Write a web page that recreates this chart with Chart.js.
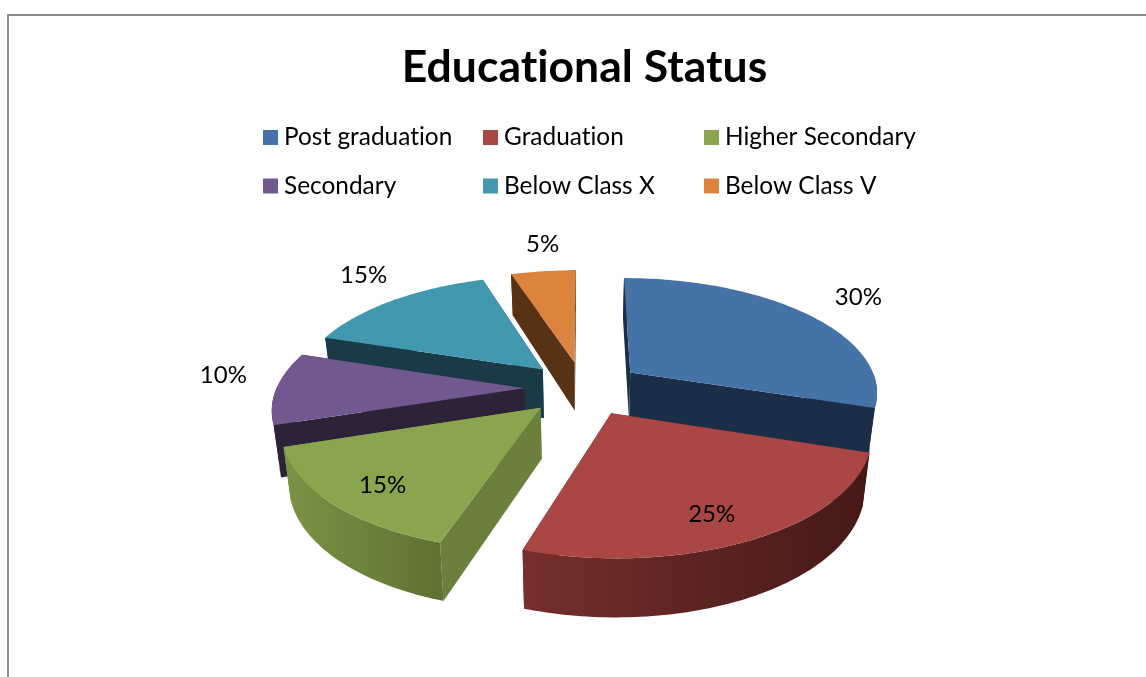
<!DOCTYPE html>
<html>
<head>
<meta charset="utf-8">
<title>Educational Status</title>
<script src="https://cdn.jsdelivr.net/npm/chart.js@4"></script>
<style>
    html, body { margin: 0; padding: 0; background: #fff; }
    canvas { display: block; }
</style>
</head>
<body>
<canvas id="statusChart" width="1146" height="677"></canvas>
<script>
const chartTitle = 'Educational Status';
const categories = ['Post graduation', 'Graduation', 'Higher Secondary', 'Secondary', 'Below Class X', 'Below Class V'];
const shares = [30, 25, 15, 10, 15, 5];

const faceColors = ['#4572a7', '#aa4643', '#89a54e', '#71588f', '#4198af', '#db843d'];
const wallColors = ['#1b2e47', '#5a2220', '#6b803c', '#2d2238', '#1a3a47', '#573215'];
const rimColors = [
    ['#1b2e47', '#1b2e47'],
    ['#772f2d', '#451917'],
    ['#7a9445', '#5e7233'],
    ['#2d2238', '#2d2238'],
    ['#1a3a47', '#1a3a47'],
    ['#573215', '#573215']
];
// radial fraction and pixel nudge for each percent label
const labelPlaces = [[1.2, 20, -6], [0.83, -13, -1], [0.81, 7, 2], [1.21, -1, -13], [1.21, -1, -12], [1.21, 5, -11]];

const FONT = 'Lato, Carlito, Calibri, sans-serif';
const TILT = 0.459;
const PERSPECTIVE = 0.00063;

// ground plane -> screen, Y grows toward the viewer
function project(origin, X, Y, drop) {
    const s = 1 / (1 - PERSPECTIVE * Y);
    const h = drop ? 50 + 0.03 * Y : 0;
    const shrink = drop ? 0.976 : 1;
    return {
        x: origin.x + X * s * shrink,
        y: origin.y + TILT * Y * s + h
    };
}

function fillPath(ctx, pts, fill) {
    ctx.beginPath();
    pts.forEach((p, i) => i ? ctx.lineTo(p.x, p.y) : ctx.moveTo(p.x, p.y));
    ctx.closePath();
    ctx.fillStyle = fill;
    ctx.fill();
}

function sliceGeometry(arc, i) {
    const offset = arc.options.offset;
    const mid = (arc.startAngle + arc.endAngle) / 2;
    const tip = { X: offset * Math.cos(mid), Y: offset * Math.sin(mid) };
    const rim = [];
    const steps = Math.ceil((arc.endAngle - arc.startAngle) / 0.02);
    for (let k = 0; k <= steps; k++) {
        const a = arc.startAngle + (arc.endAngle - arc.startAngle) * k / steps;
        rim.push({ X: tip.X + arc.outerRadius * Math.cos(a), Y: tip.Y + arc.outerRadius * Math.sin(a) });
    }
    return { i, arc, mid, tip, rim };
}

function drawSlice(ctx, origin, s) {
    const top = p => project(origin, p.X, p.Y, false);
    const low = p => project(origin, p.X, p.Y, true);
    const first = s.rim[0];
    const last = s.rim[s.rim.length - 1];

    // cut faces and the rim, farthest first
    const walls = [
        { y: (s.tip.Y + first.Y) / 2, pts: [s.tip, first], fill: wallColors[s.i] },
        { y: (s.tip.Y + last.Y) / 2, pts: [s.tip, last], fill: wallColors[s.i] }
    ];
    const front = s.rim.filter((p, k) => k === 0 || k === s.rim.length - 1 || p.Y - s.tip.Y > 0);
    const xs = front.map(p => top(p).x);
    const shade = ctx.createLinearGradient(Math.min(...xs), 0, Math.max(...xs), 0);
    shade.addColorStop(0, rimColors[s.i][0]);
    shade.addColorStop(1, rimColors[s.i][1]);
    walls.push({ y: Math.max(...s.rim.map(p => p.Y)), pts: front, fill: shade });
    walls.sort((a, b) => a.y - b.y);
    walls.forEach(w => {
        fillPath(ctx, w.pts.map(top).concat(w.pts.slice().reverse().map(low)), w.fill);
    });

    fillPath(ctx, [top(s.tip)].concat(s.rim.map(top)), faceColors[s.i]);
}

const exploded3d = {
    id: 'exploded3d',
    beforeDraw(chart) {
        const ctx = chart.ctx;
        ctx.save();
        ctx.fillStyle = '#fff';
        ctx.fillRect(0, 0, chart.width, chart.height);
        ctx.strokeStyle = '#8c8c8c';
        ctx.lineWidth = 2;
        ctx.beginPath();
        ctx.moveTo(8, chart.height);
        ctx.lineTo(8, 15);
        ctx.lineTo(chart.width, 15);
        ctx.stroke();
        ctx.restore();
        // keeps Lato from joining "ti" into a ligature
        ctx.letterSpacing = '0.01px';
    },
    beforeDatasetDraw(chart, args) {
        const ctx = chart.ctx;
        const arcs = chart.getDatasetMeta(args.index).data;
        const origin = { x: arcs[0].x - 1, y: arcs[0].y };
        const slices = arcs.map(sliceGeometry);
        slices.slice().sort((a, b) => a.tip.Y - b.tip.Y).forEach(s => drawSlice(ctx, origin, s));

        ctx.save();
        ctx.font = '24px ' + FONT;
        ctx.fillStyle = '#000';
        ctx.textAlign = 'center';
        ctx.textBaseline = 'middle';
        slices.forEach(s => {
            const [frac, dx, dy] = labelPlaces[s.i];
            const r = s.arc.outerRadius * frac;
            const p = project(origin, s.tip.X + r * Math.cos(s.mid), s.tip.Y + r * Math.sin(s.mid), false);
            ctx.fillText(shares[s.i] + '%', p.x + dx, p.y + dy);
        });
        ctx.restore();
        return false;
    },
    afterDraw(chart) {
        // legend sits in fixed columns, the built in one only centres rows
        const ctx = chart.ctx;
        const colX = [263, 483, 704];
        const rowY = [137.5, 186];
        ctx.save();
        ctx.font = '24.4px ' + FONT;
        ctx.textBaseline = 'middle';
        categories.forEach((name, i) => {
            const x = colX[i % 3];
            const y = rowY[Math.floor(i / 3)];
            ctx.fillStyle = faceColors[i];
            ctx.fillRect(x, y - 7.5, 15, 15);
            ctx.fillStyle = '#000';
            ctx.fillText(name, x + 21, y);
        });
        ctx.restore();
    }
};

new Chart(document.getElementById('statusChart'), {
    type: 'pie',
    data: {
        labels: categories,
        datasets: [{
            data: shares,
            backgroundColor: faceColors,
            borderWidth: 0,
            offset: 59,
            radius: 248
        }]
    },
    options: {
        responsive: false,
        animation: false,
        layout: { padding: { left: 23 } },
        plugins: {
            legend: { display: false },
            tooltip: { enabled: false },
            title: {
                display: true,
                text: chartTitle,
                color: '#000',
                font: { family: FONT, size: 44.5, weight: 'bold' },
                padding: { top: 41, bottom: 5 }
            }
        }
    },
    plugins: [exploded3d]
});
</script>
</body>
</html>
